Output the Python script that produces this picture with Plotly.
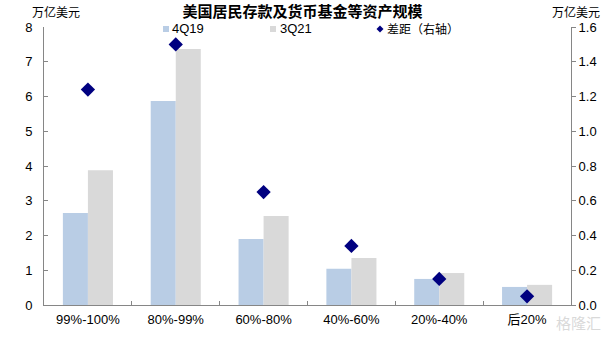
import plotly.graph_objects as go

categories = ["99%-100%", "80%-99%", "60%-80%", "40%-60%", "20%-40%", "后20%"]
q4_19 = [2.65, 5.87, 1.90, 1.04, 0.75, 0.52]
q3_21 = [3.88, 7.37, 2.56, 1.35, 0.92, 0.58]
gap = [1.24, 1.50, 0.65, 0.34, 0.15, 0.05]

FONT = "Liberation Sans, Noto Sans CJK SC, sans-serif"
CJK = "Noto Sans CJK SC, Liberation Sans, sans-serif"
AX = "#868686"
BLUE, GRAY, NAVY = "#B9CDE5", "#D9D9D9", "#000080"

W, H = 605, 337
L, R, T, B = 44, 34, 27, 32
PW, PH = W - L - R, H - T - B


def px(x):
    return (x - L) / PW


def py(y):
    return (H - B - y) / PH


fig = go.Figure()
fig.add_trace(go.Bar(x=categories, y=q4_19, name="4Q19", marker_color=BLUE,
                     marker_line_width=0))
fig.add_trace(go.Bar(x=categories, y=q3_21, name="3Q21", marker_color=GRAY,
                     marker_line_width=0))
fig.add_trace(go.Scatter(x=categories, y=gap, name="差距（右轴）", mode="markers",
                         marker=dict(symbol="diamond", size=11, color=NAVY, line_width=0),
                         yaxis="y2"))

fig.update_layout(
    width=W, height=H,
    margin=dict(l=L, r=R, t=T, b=B),
    paper_bgcolor="white", plot_bgcolor="white",
    barmode="group", bargap=0.43, bargroupgap=0,
    showlegend=False,
    font=dict(family=FONT, size=13, color="#000"),
    title=dict(text="<b>美国居民存款及货币基金等资产规模</b>", x=0.5, xanchor="center",
               y=1 - 12 / H, yanchor="middle",
               font=dict(family=CJK, size=15, color="#000")),
    xaxis=dict(showline=True, linecolor=AX, linewidth=1, ticks="inside", tickson="boundaries",
               ticklen=4, tickcolor=AX, showgrid=False, tickfont=dict(size=13),
               ticklabelstandoff=2, automargin=False),
    yaxis=dict(range=[0, 8], dtick=1, showline=True, linecolor=AX, linewidth=1, ticks="inside",
               ticklen=4, tickcolor=AX, showgrid=False, zeroline=False, tickfont=dict(size=13),
               ticklabelstandoff=8, automargin=False),
    yaxis2=dict(range=[0, 1.6], dtick=0.2, tickformat=".1f", overlaying="y", side="right",
                showline=True, linecolor=AX, linewidth=1, ticks="outside", ticklen=4,
                tickcolor=AX, showgrid=False, zeroline=False, tickfont=dict(size=13),
                automargin=False),
)

# axis unit labels
fig.add_annotation(text="万亿美元", xref="paper", yref="paper", x=px(56), y=py(12),
                   xanchor="center", yanchor="middle", showarrow=False,
                   font=dict(family=CJK, size=12, color="#000"))
fig.add_annotation(text="万亿美元", xref="paper", yref="paper", x=px(576), y=py(12),
                   xanchor="center", yanchor="middle", showarrow=False,
                   font=dict(family=CJK, size=12, color="#000"))

# manual legend
legend_items = [("4Q19", BLUE, "square", 166, 171), ("3Q21", GRAY, "square", 273, 279),
                ("差距（右轴）", NAVY, "diamond", 380, 386)]
ly = 29
for name, col, kind, cx, tx in legend_items:
    if kind == "square":
        fig.add_shape(type="rect", xref="paper", yref="paper",
                      x0=px(cx - 3), x1=px(cx + 3), y0=py(ly + 3), y1=py(ly - 3),
                      fillcolor=col, line_width=0)
    else:
        path = (f"M {px(cx - 3.5)} {py(ly)} L {px(cx)} {py(ly - 3.5)} "
                f"L {px(cx + 3.5)} {py(ly)} L {px(cx)} {py(ly + 3.5)} Z")
        fig.add_shape(type="path", xref="paper", yref="paper", path=path,
                      fillcolor=col, line_width=0)
    fig.add_annotation(text=name, xref="paper", yref="paper", x=px(tx), y=py(ly),
                       xanchor="left", yanchor="middle", showarrow=False, borderpad=0,
                       font=dict(family=FONT if kind == "square" else CJK,
                                 size=13 if kind == "square" else 12, color="#000"))

# watermark
fig.add_annotation(text="格隆汇", xref="paper", yref="paper", x=px(578), y=py(322),
                   xanchor="center", yanchor="middle", showarrow=False,
                   font=dict(family=CJK, size=15, color="rgba(200,200,200,0.7)"))

fig.write_html("out.html")
